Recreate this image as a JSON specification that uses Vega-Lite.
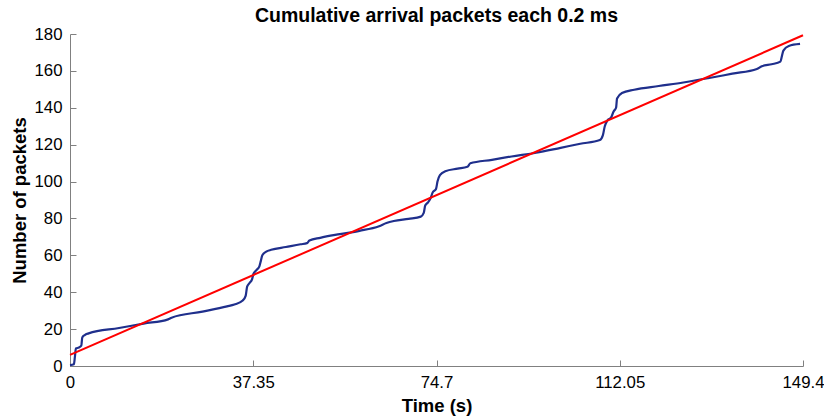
{
  "$schema": "https://vega.github.io/schema/vega-lite/v6.json",
  "width": 733,
  "height": 332,
  "autosize": {"type": "none"},
  "padding": {"left": 70, "top": 34, "right": 21, "bottom": 53},
  "background": "white",
  "title": {"text": "Cumulative arrival packets each 0.2 ms", "font": "Liberation Sans", "fontSize": 19.5, "fontWeight": "bold", "color": "black", "offset": 0, "anchor": "middle"},
  "config": {
    "view": {"stroke": null},
    "axis": {"labelFont": "Liberation Sans", "labelFontSize": 16.8, "labelColor": "black", "titleFont": "Liberation Sans", "titleFontSize": 18.5, "titleFontWeight": "bold", "titleColor": "black", "domainColor": "#808080", "tickColor": "#808080", "grid": false, "tickSize": -6, "labelOverlap": false, "labelFlush": false}
  },
  "encoding": {
    "x": {"field": "t", "type": "quantitative", "scale": {"domain": [0, 149.4], "nice": false, "zero": false}, "axis": {"values": [0, 37.35, 74.7, 112.05, 149.4], "title": "Time (s)", "format": ".5~g", "labelPadding": 14, "titlePadding": 6, "labelOverlap": false}},
    "y": {"field": "n", "type": "quantitative", "scale": {"domain": [0, 180], "nice": false}, "axis": {"values": [0, 20, 40, 60, 80, 100, 120, 140, 160, 180], "tickCount": 10, "title": "Number of packets", "labelPadding": 14, "titlePadding": 5, "labelOverlap": false, "labelBound": false}}
  },
  "layer": [
    {
      "data": {"values": [
        {"t":0,"n":0.5},{"t":0.8,"n":1},{"t":1.0,"n":5},{"t":1.2,"n":9.5},{"t":1.8,"n":10},{"t":2.3,"n":11},{"t":2.5,"n":15.5},{"t":3,"n":16.8},{"t":3.8,"n":17.7},
        {"t":10,"n":20.6},{"t":15,"n":23},{"t":20,"n":25.3},{"t":20.7,"n":26.2},{"t":27,"n":29.5},{"t":32,"n":32.3},{"t":33.5,"n":33.3},{"t":35.2,"n":35.5},
        {"t":35.8,"n":38},{"t":36.1,"n":43},{"t":36.6,"n":45},{"t":37.1,"n":47},{"t":37.4,"n":50},{"t":38,"n":52},{"t":38.6,"n":54},{"t":38.9,"n":57},{"t":39.2,"n":60},
        {"t":40,"n":62},{"t":41,"n":63},{"t":44,"n":64.5},{"t":47,"n":66},{"t":48.3,"n":66.6},{"t":48.8,"n":68},{"t":51,"n":69.5},{"t":55,"n":71.5},{"t":59,"n":73.3},
        {"t":63,"n":75.8},{"t":64.5,"n":77.5},{"t":66,"n":78.6},{"t":69,"n":79.8},{"t":71.5,"n":81},{"t":72.1,"n":83},{"t":72.4,"n":87},{"t":72.9,"n":88.5},{"t":73.5,"n":91},
        {"t":73.9,"n":94},{"t":74.6,"n":96},{"t":74.9,"n":100},{"t":75.4,"n":103.5},{"t":76.5,"n":105.6},{"t":79,"n":107},{"t":81,"n":108},{"t":81.6,"n":109.9},
        {"t":86,"n":111.8},{"t":90,"n":113.6},{"t":95,"n":115.6},{"t":100,"n":118.3},{"t":104,"n":120.5},{"t":108,"n":122.5},{"t":108.6,"n":125},{"t":109,"n":130},
        {"t":109.5,"n":133},{"t":110.3,"n":134.8},{"t":110.8,"n":138},{"t":111.3,"n":140},{"t":111.5,"n":145},{"t":112.5,"n":148},{"t":115,"n":149.8},{"t":120,"n":151.8},
        {"t":125,"n":153.7},{"t":130,"n":156},{"t":135,"n":158.5},{"t":140,"n":161},{"t":141,"n":162.5},{"t":143,"n":163.6},{"t":144.8,"n":165},{"t":145.1,"n":168},
        {"t":145.4,"n":171},{"t":146.5,"n":173.5},{"t":148.8,"n":174.6}
      ]},
      "mark": {"type": "line", "color": "#1f2f8c", "strokeWidth": 2.2, "interpolate": "monotone"}
    },
    {
      "data": {"values": [{"t": 0, "n": 6}, {"t": 149.4, "n": 179.3}]},
      "mark": {"type": "line", "color": "#ff0000", "strokeWidth": 2}
    }
  ]
}
